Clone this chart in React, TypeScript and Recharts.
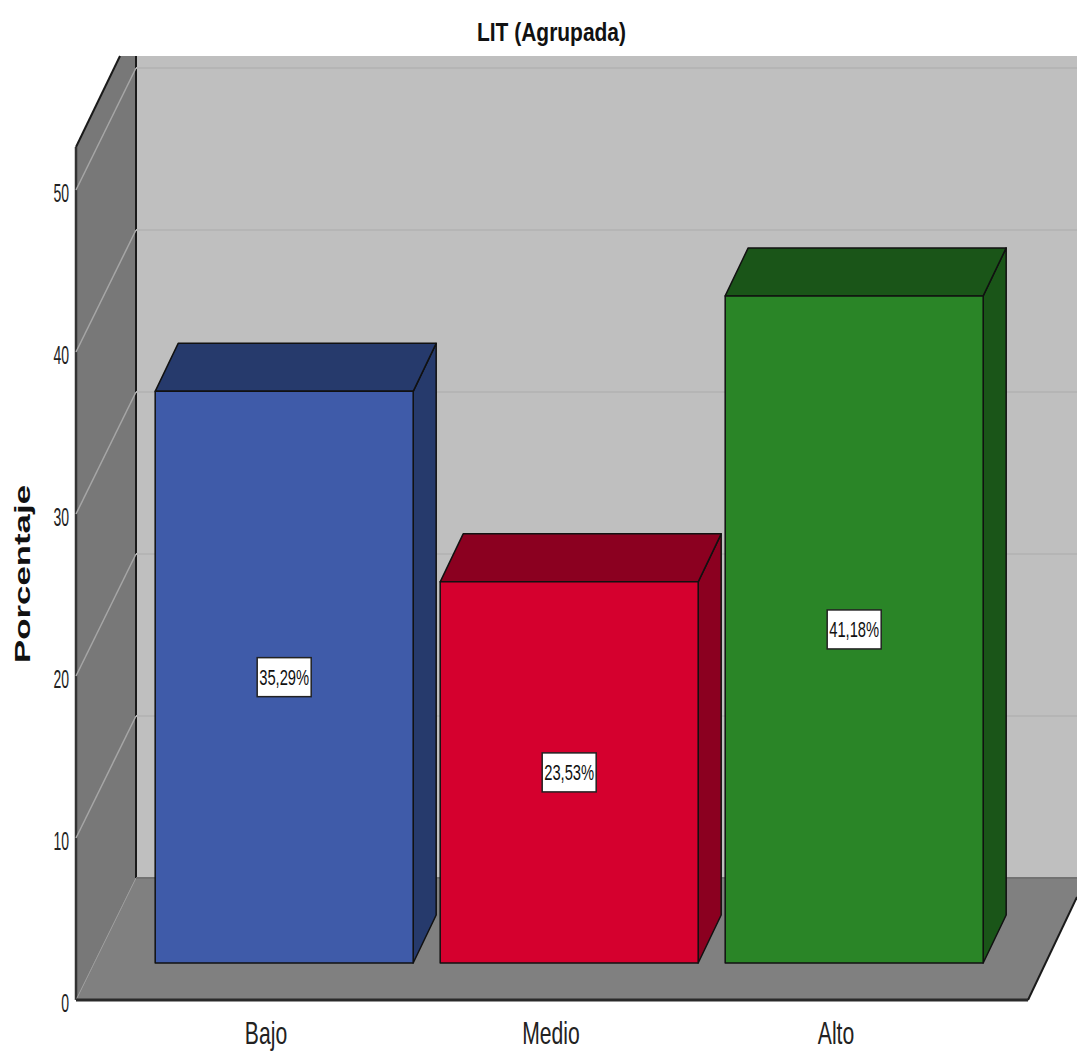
import { BarChart, Bar, XAxis, YAxis, CartesianGrid, LabelList, Label } from "recharts";

const categories = ["Bajo", "Medio", "Alto"];
const percentages = [35.29, 23.53, 41.18];
const percentLabels = ["35,29%", "23,53%", "41,18%"];
const yTicks = [0, 10, 20, 30, 40, 50];

const faceColors = ["#3F5BA9", "#D5002E", "#2A8527"];
const shadeColors = ["#263A6C", "#8B0020", "#1A5518"];

const chartData = categories.map((category, i) => ({
  category,
  value: percentages[i],
  label: percentLabels[i],
}));

const WIDTH = 1077;
const HEIGHT = 1055;
const AXIS_X = 76;
const AXIS_Y = 1000;
const RIGHT_X = 1028;
const TOP_Y = 56;

// Room depth (front edge to back wall) and the inset of the bars on the floor
const ROOM_DX = 60;
const ROOM_DY = 122;
const BAR_DX = 18;
const BAR_DY = 37;
const BOX_DX = 23;
const BOX_DY = 48;

const Backdrop = () => {
  const backX = AXIS_X + ROOM_DX;
  const backY = AXIS_Y - ROOM_DY;
  return (
    <svg width={WIDTH} height={HEIGHT} style={{ position: "absolute", left: 0, top: 0 }}>
      <rect x={backX} y={TOP_Y} width={WIDTH - backX} height={backY - TOP_Y} fill="#BFBFBF" />
      <polygon
        points={`${AXIS_X},147 120,${TOP_Y} ${backX},${TOP_Y} ${backX},${backY} ${AXIS_X},${AXIS_Y}`}
        fill="#787878"
      />
      <polygon
        points={`${AXIS_X},${AXIS_Y} ${RIGHT_X},${AXIS_Y} ${WIDTH},897 ${WIDTH},${backY} ${backX},${backY}`}
        fill="#808080"
      />
      <line x1={AXIS_X} y1={147} x2={120} y2={TOP_Y} stroke="#1a1a1a" strokeWidth={2} />
      <line x1={AXIS_X} y1={147} x2={AXIS_X} y2={AXIS_Y} stroke="#333" strokeWidth={2.5} />
      <line x1={backX} y1={TOP_Y} x2={backX} y2={backY} stroke="#1a1a1a" strokeWidth={2} />
      <line x1={RIGHT_X} y1={AXIS_Y} x2={WIDTH} y2={897} stroke="#1a1a1a" strokeWidth={2} />
    </svg>
  );
};

// Each horizontal grid line is carried across the side wall and along the back wall
const WallGridLine = (props: any) => {
  const { x1, y1, key } = props;
  const isFloor = y1 >= AXIS_Y - 1;
  const backX = x1 + ROOM_DX;
  const backY = y1 - ROOM_DY;
  return (
    <g key={key}>
      <line
        x1={x1}
        y1={y1}
        x2={backX}
        y2={backY}
        stroke={isFloor ? "#9A9A9A" : "#A6A6A6"}
        strokeWidth={isFloor ? 1 : 1.5}
      />
      <line
        x1={backX}
        y1={backY}
        x2={WIDTH}
        y2={backY}
        stroke={isFloor ? "#727272" : "#B5B5B5"}
        strokeWidth={2}
      />
    </g>
  );
};

const BoxBar = (props: any) => {
  const { x, y, width, height, index } = props;
  const left = x + BAR_DX;
  const right = left + width;
  const top = y - BAR_DY;
  const bottom = top + height;
  const edge = { stroke: "#111", strokeWidth: 1.5, strokeLinejoin: "round" as const };
  return (
    <g>
      <polygon
        points={`${right},${top} ${right + BOX_DX},${top - BOX_DY} ${right + BOX_DX},${bottom - BOX_DY} ${right},${bottom}`}
        fill={shadeColors[index]}
        {...edge}
      />
      <polygon
        points={`${left},${top} ${left + BOX_DX},${top - BOX_DY} ${right + BOX_DX},${top - BOX_DY} ${right},${top}`}
        fill={shadeColors[index]}
        {...edge}
      />
      <rect x={left} y={top} width={width} height={height} fill={faceColors[index]} {...edge} />
    </g>
  );
};

const ValueBox = (props: any) => {
  const { x, y, width, height, value } = props;
  const cx = x + BAR_DX + width / 2;
  const cy = y - BAR_DY + height / 2;
  return (
    <g>
      <rect x={cx - 27} y={cy - 19.5} width={54} height={39} fill="#fff" stroke="#222" strokeWidth={1.5} />
      <text
        transform={`translate(${cx},${cy + 8}) scale(0.67,1)`}
        textAnchor="middle"
        fontFamily="Liberation Sans"
        fontSize={22}
        fill="#111"
      >
        {value}
      </text>
    </g>
  );
};

const CategoryTick = ({ x, y, payload }: any) => (
  <text
    transform={`translate(${x},${y + 30}) scale(0.66,1)`}
    textAnchor="middle"
    fontFamily="Liberation Sans"
    fontSize={32}
    fill="#222"
  >
    {payload.value}
  </text>
);

const PercentTick = ({ x, y, payload }: any) => (
  <text
    transform={`translate(${x},${y + 12}) scale(0.56,1)`}
    textAnchor="end"
    fontFamily="Liberation Sans"
    fontSize={25}
    fill="#222"
  >
    {payload.value}
  </text>
);

const AxisTitle = () => (
  <text
    transform="translate(29.5,663) rotate(-90)"
    textLength={178}
    lengthAdjust="spacingAndGlyphs"
    fontFamily="Liberation Sans"
    fontWeight="bold"
    fontSize={22}
    fill="#111"
  >
    Porcentaje
  </text>
);

export default function App() {
  return (
    <div style={{ position: "absolute", left: 0, top: 0, width: WIDTH, height: HEIGHT, background: "#fff" }}>
      <Backdrop />
      <div style={{ position: "absolute", left: 0, top: 0 }}>
        <BarChart
          width={WIDTH}
          height={HEIGHT}
          data={chartData}
          margin={{ top: 190, right: WIDTH - RIGHT_X, left: 0, bottom: 0 }}
          barCategoryGap="4.8%"
        >
          <CartesianGrid vertical={false} horizontal={WallGridLine} />
          <XAxis
            dataKey="category"
            height={55}
            padding={{ left: 47.5, right: 49.5 }}
            tickLine={false}
            tickMargin={8}
            axisLine={{ stroke: "#2a2a2a", strokeWidth: 3 }}
            tick={CategoryTick}
            interval={0}
          />
          <YAxis
            width={AXIS_X}
            domain={[0, 50]}
            ticks={yTicks}
            tickLine={false}
            tickMargin={1}
            axisLine={false}
            tick={PercentTick}
          >
            <Label content={AxisTitle} />
          </YAxis>
          <Bar dataKey="value" shape={BoxBar} isAnimationActive={false}>
            <LabelList dataKey="label" content={ValueBox} />
          </Bar>
          <text
            x={551.5}
            y={41}
            textAnchor="middle"
            textLength={149}
            lengthAdjust="spacingAndGlyphs"
            fontFamily="Liberation Sans"
            fontWeight="bold"
            fontSize={26}
            fill="#111"
          >
            LIT (Agrupada)
          </text>
        </BarChart>
      </div>
    </div>
  );
}
